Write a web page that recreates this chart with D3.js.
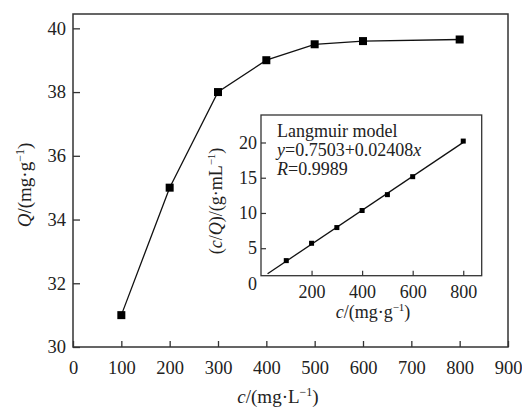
<!DOCTYPE html>
<html>
<head>
<meta charset="utf-8">
<script src="https://cdn.jsdelivr.net/npm/d3@7"></script>
<style>
  body { margin: 0; background: #fff; }
  svg, text { font-family: "Liberation Serif", "Times New Roman", serif; }
  text { fill: #222; }
</style>
</head>
<body>
<div id="chart"></div>
<script>
// Main curve: adsorption amount vs concentration
var concValues = [100, 200, 300, 400, 500, 600, 800];
var qValues    = [31.0, 35.0, 38.0, 39.0, 39.5, 39.6, 39.65];
var mainXTicks = [0, 100, 200, 300, 400, 500, 600, 700, 800, 900];
var mainYTicks = [30, 32, 34, 36, 38, 40];

// Inset: Langmuir linear fit
var insetX     = [100, 200, 300, 400, 500, 600, 800];
var insetY     = [3.24, 5.7, 7.93, 10.35, 12.6, 15.15, 20.2];
var fitX       = [26, 800];
var fitY       = [1.38, 20.02];
var insetXTicks = [200, 400, 600, 800];
var insetYTicks = [0, 5, 10, 15, 20];
var legendLines = ["Langmuir model", "y=0.7503+0.02408x", "R=0.9989"];

var serif = "'Liberation Serif', 'Times New Roman', serif";

var svg = d3.select("#chart")
			.append("svg")
			.attr("width", 522)
			.attr("height", 408)
			.attr("font-family", serif);

// Scales for the main chart
var xScale = d3.scaleLinear().domain([0, 900]).range([73, 508]);
var yScale = d3.scaleLinear().domain([30, 40.45]).range([347, 14]);

// Main axes, ticks pointing inward
var xAxis = svg.append("g")
			   .attr("transform", "translate(0,347)")
			   .call(d3.axisBottom(xScale).tickValues(mainXTicks).tickSize(-6).tickPadding(14));
var yAxis = svg.append("g")
			   .attr("transform", "translate(73,0)")
			   .call(d3.axisLeft(yScale).tickValues(mainYTicks).tickSize(-7).tickPadding(7));

[xAxis, yAxis].forEach(function(ax) {
	ax.attr("font-family", serif).attr("font-size", null);
	ax.select(".domain").remove();
	ax.selectAll("line").attr("stroke", "#333").attr("stroke-width", 1.3);
	ax.selectAll("text").style("font-size", "18.5px").attr("fill", "#222");
});

// Frame
svg.append("rect")
   .attr("x", xScale(0)).attr("y", yScale(40.45))
   .attr("width", xScale(900) - xScale(0))
   .attr("height", yScale(30) - yScale(40.45))
   .attr("fill", "none").attr("stroke", "#333").attr("stroke-width", 1.5);

// Main line and markers
var mainData = concValues.map(function(c, i) { return [c, qValues[i]]; });
var line = d3.line()
			 .x(function(d) { return xScale(d[0]); })
			 .y(function(d) { return yScale(d[1]); });

svg.append("path")
   .datum(mainData)
   .attr("d", line)
   .attr("fill", "none").attr("stroke", "#111").attr("stroke-width", 1.3);

svg.selectAll(".mk")
   .data(mainData)
   .enter()
   .append("rect")
   .attr("class", "mk")
   .attr("x", function(d) { return xScale(d[0]) - 4; })
   .attr("y", function(d) { return yScale(d[1]) - 4; })
   .attr("width", 8).attr("height", 8)
   .attr("fill", "#000");

// Axis labels
var xl = svg.append("text")
			.attr("x", 278).attr("y", 403)
			.attr("text-anchor", "middle")
			.style("font-size", "19px");
xl.append("tspan").style("font-style", "italic").text("c");
xl.append("tspan").text("/(mg·L");
xl.append("tspan").attr("dy", -7).style("font-size", "12px").text("−1");
xl.append("tspan").attr("dy", 7).text(")");

var yl = svg.append("text")
			.attr("transform", "translate(31,185) rotate(-90)")
			.attr("text-anchor", "middle")
			.style("font-size", "19px");
yl.append("tspan").style("font-style", "italic").text("Q");
yl.append("tspan").text("/(mg·g");
yl.append("tspan").attr("dy", -7).style("font-size", "12px").text("−1");
yl.append("tspan").attr("dy", 7).text(")");

// ---- Inset ----
var ix = d3.scaleLinear().domain([0, 873]).range([261, 481.7]);
var iy = d3.scaleLinear().domain([1.1, 23.9]).range([275.7, 115]);

svg.append("rect")
   .attr("x", ix(0)).attr("y", iy(23.9))
   .attr("width", ix(873) - ix(0))
   .attr("height", iy(1.1) - iy(23.9))
   .attr("fill", "#fff").attr("stroke", "#333").attr("stroke-width", 1.3);

var ixAxis = svg.append("g")
				.attr("transform", "translate(0," + iy(1.1) + ")")
				.call(d3.axisBottom(ix).tickValues(insetXTicks).tickSize(-5).tickPadding(10));
var iyAxis = svg.append("g")
				.attr("transform", "translate(" + ix(0) + ",0)")
				.call(d3.axisLeft(iy).tickValues(insetYTicks).tickSize(-5).tickPadding(4));

[ixAxis, iyAxis].forEach(function(ax) {
	ax.attr("font-family", serif).attr("font-size", null);
	ax.select(".domain").remove();
	ax.selectAll("line").attr("stroke", "#333").attr("stroke-width", 1.2);
	ax.selectAll("text").style("font-size", "18px").attr("fill", "#222");
});
// tick below the inset frame has no mark
iyAxis.selectAll(".tick").filter(function(d) { return d < 1.1; }).select("line").remove();

var fitData = fitX.map(function(x, i) { return [x, fitY[i]]; });
var iline = d3.line()
			  .x(function(d) { return ix(d[0]); })
			  .y(function(d) { return iy(d[1]); });

svg.append("path")
   .datum(fitData)
   .attr("d", iline)
   .attr("fill", "none").attr("stroke", "#111").attr("stroke-width", 1.3);

svg.selectAll(".imk")
   .data(insetX.map(function(x, i) { return [x, insetY[i]]; }))
   .enter()
   .append("rect")
   .attr("class", "imk")
   .attr("x", function(d) { return ix(d[0]) - 2.5; })
   .attr("y", function(d) { return iy(d[1]) - 2.5; })
   .attr("width", 5).attr("height", 5)
   .attr("fill", "#000");

// Legend text
var lg = svg.append("g").style("font-size", "18px");
lg.append("text").attr("x", 277).attr("y", 136.5).text(legendLines[0]);
var l2 = lg.append("text").attr("x", 277).attr("y", 155.5);
l2.append("tspan").style("font-style", "italic").text("y");
l2.append("tspan").text(legendLines[1].slice(1, -1));
l2.append("tspan").style("font-style", "italic").text("x");
var l3 = lg.append("text").attr("x", 277).attr("y", 174.5);
l3.append("tspan").style("font-style", "italic").text("R");
l3.append("tspan").text(legendLines[2].slice(1));

// Inset labels
var ixl = svg.append("text")
			 .attr("x", 373).attr("y", 318)
			 .attr("text-anchor", "middle")
			 .style("font-size", "18px");
ixl.append("tspan").style("font-style", "italic").text("c");
ixl.append("tspan").text("/(mg·g");
ixl.append("tspan").attr("dy", -7).style("font-size", "11px").text("−1");
ixl.append("tspan").attr("dy", 7).text(")");

var iyl = svg.append("text")
			 .attr("transform", "translate(222,201) rotate(-90)")
			 .attr("text-anchor", "middle")
			 .style("font-size", "18px");
iyl.append("tspan").text("(");
iyl.append("tspan").style("font-style", "italic").text("c");
iyl.append("tspan").text("/");
iyl.append("tspan").style("font-style", "italic").text("Q");
iyl.append("tspan").text(")/(g·mL");
iyl.append("tspan").attr("dy", -7).style("font-size", "11px").text("−1");
iyl.append("tspan").attr("dy", 7).text(")");
</script>
</body>
</html>
